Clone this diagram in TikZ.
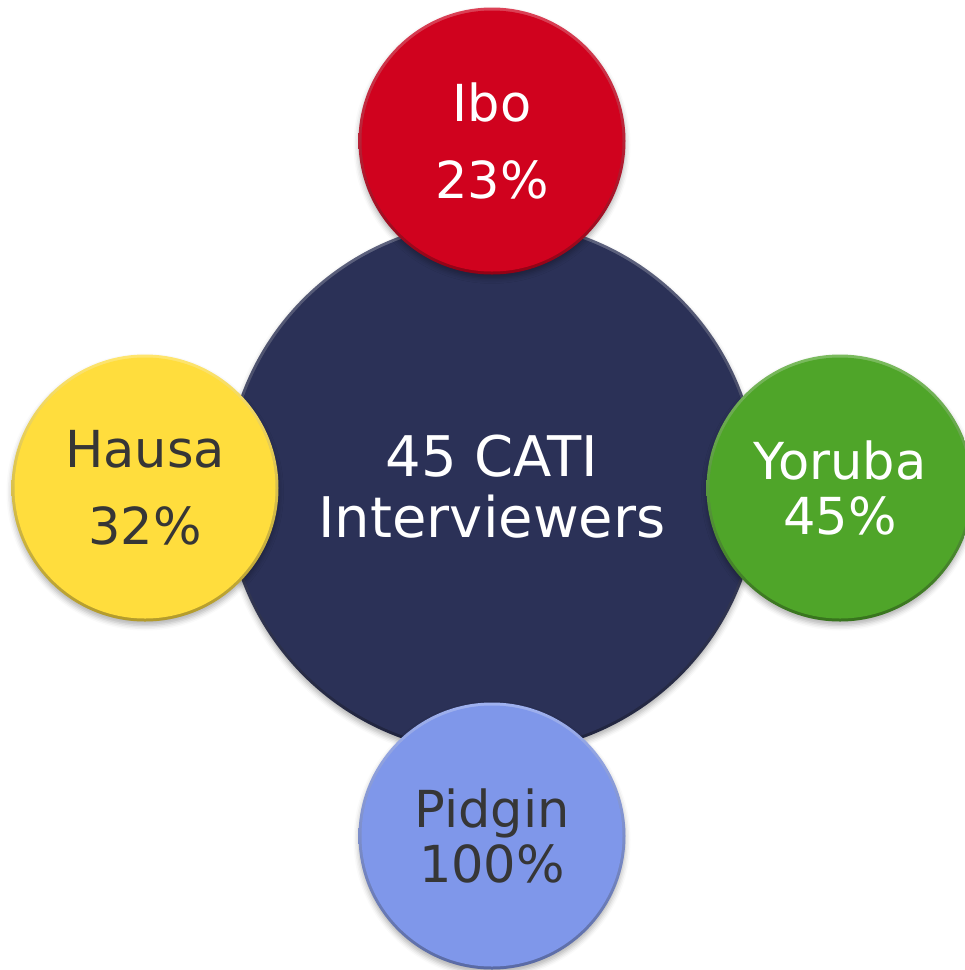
\documentclass[tikz,border=0pt]{standalone}
\usepackage{fontspec}
\setmainfont{DejaVu Sans}
\usetikzlibrary{shadows.blur}
\definecolor{navy}{HTML}{2B3157}
\definecolor{ibored}{HTML}{D0021E}
\definecolor{hausayel}{HTML}{FFDD3D}
\definecolor{yorgreen}{HTML}{4FA529}
\definecolor{pidblue}{HTML}{7F97EA}
\definecolor{darktxt}{HTML}{363636}
\newcommand\bigtxt{\fontsize{56}{61}\selectfont}
\newcommand\smtxtA{\fontsize{51}{77}\selectfont}
\newcommand\smtxtB{\fontsize{51}{55}\selectfont}
\tikzset{
  ball/.style={circle, inner sep=0pt, align=center,
    blur shadow={shadow xshift=0pt, shadow yshift=-4pt, shadow blur radius=5pt, shadow opacity=30}},
  ballcol/.style 2 args={top color=#1!75!white, bottom color=#1!70!black,
    path picture={\fill[#1] (path picture bounding box.center) circle (#2);}},
  smallball/.style={ball, minimum size=267pt},
}
\begin{document}
\begin{tikzpicture}[x=1pt,y=-1pt]
\useasboundingbox (0,0) rectangle (965,970);
\node[ball, minimum size=534pt, ballcol={navy}{264pt}, text=white, font=\bigtxt]
  (center) at (492,487) {45 CATI\\Interviewers};
\node[smallball, ballcol={ibored}{130.5pt}, text=white, font=\smtxtA]
  (ibo) at (492,141) {Ibo\\23\%};
\node[smallball, ballcol={hausayel}{130.5pt}, text=darktxt, font=\smtxtA]
  (hausa) at (145,488) {Hausa\\32\%};
\node[smallball, ballcol={yorgreen}{130.5pt}, text=white, font=\smtxtB]
  (yoruba) at (840,488) {Yoruba\\45\%};
\node[smallball, ballcol={pidblue}{130.5pt}, text=darktxt, font=\smtxtB]
  (pidgin) at (492,836) {Pidgin\\100\%};
\end{tikzpicture}
\end{document}
